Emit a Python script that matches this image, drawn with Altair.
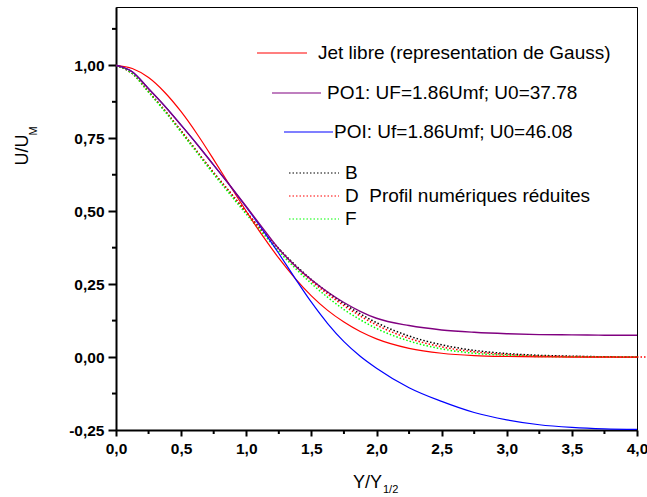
import altair as alt
import pandas as pd

# ---- data ----
xs = [0, 0.125, 0.25, 0.375, 0.5, 0.625, 0.75, 0.875, 1.0, 1.125, 1.25, 1.375, 1.5,
      1.625, 1.75, 1.875, 2.0, 2.25, 2.5, 2.75, 3.0, 3.25, 3.5, 3.75, 4.0]
gauss = [1.0, 0.989, 0.958, 0.907, 0.841, 0.763, 0.677, 0.588, 0.5, 0.416, 0.339, 0.270, 0.210,
         0.160, 0.120, 0.0875, 0.0625, 0.030, 0.013, 0.005, 0.002, 0.001, 0.0, 0.0, 0.0]
po1 = [1.0, 0.978, 0.92, 0.86, 0.795, 0.728, 0.658, 0.588, 0.516, 0.443, 0.371, 0.313, 0.265,
       0.223, 0.187, 0.157, 0.133, 0.108, 0.093, 0.085, 0.08, 0.077, 0.076, 0.075, 0.075]
poi = [1.0, 0.978, 0.92, 0.86, 0.795, 0.728, 0.658, 0.588, 0.514, 0.437, 0.355, 0.27, 0.188,
       0.115, 0.053, 0.003, -0.038, -0.105, -0.152, -0.19, -0.215, -0.232, -0.241, -0.246, -0.248]
prof_b = [1.0, 0.972, 0.91, 0.845, 0.775, 0.703, 0.632, 0.565, 0.497, 0.432, 0.372, 0.316, 0.266,
          0.222, 0.183, 0.148, 0.118, 0.072, 0.042, 0.023, 0.012, 0.006, 0.003, 0.001, 0.0]
prof_d = [1.0, 0.972, 0.91, 0.845, 0.775, 0.703, 0.632, 0.565, 0.497, 0.432, 0.37, 0.312, 0.261,
          0.216, 0.176, 0.141, 0.11, 0.064, 0.035, 0.018, 0.009, 0.004, 0.002, 0.001, 0.0]
prof_f = [1.0, 0.972, 0.908, 0.842, 0.771, 0.699, 0.627, 0.558, 0.49, 0.425, 0.362, 0.305, 0.252,
          0.205, 0.163, 0.128, 0.098, 0.055, 0.028, 0.013, 0.006, 0.002, 0.001, 0.0, 0.0]
d_ext_x = [4.0, 4.08]
d_ext_y = [0.0, 0.0]

y_major = [-0.25, 0.0, 0.25, 0.5, 0.75, 1.0]
y_minor = [-0.125, 0.125, 0.375, 0.625, 0.875, 1.125]
x_major = [0, 0.5, 1.0, 1.5, 2.0, 2.5, 3.0, 3.5, 4.0]
x_minor = [0.25, 0.75, 1.25, 1.75, 2.25, 2.75, 3.25, 3.75]

W, H = 521, 423
FONT = "Liberation Sans"

xscale = alt.Scale(domain=[0, 4], nice=False, zero=False)
yscale = alt.Scale(domain=[-0.25, 1.2], nice=False, zero=False)

y_label_expr = ("datum.value < 0 ? '-' + replace(format(abs(datum.value), '.2f'), '.', ',') "
                ": replace(format(datum.value, '.2f'), '.', ',')")
x_label_expr = "replace(format(datum.value, '.1f'), '.', ',')"

x_axis = alt.Axis(values=x_major, labelExpr=x_label_expr, title=None, grid=False,
                  tickSize=6, tickWidth=2, domainWidth=2, labelPadding=5,
                  labelFlush=False, labelOverlap=False)
y_axis = alt.Axis(values=y_major, labelExpr=y_label_expr, title=None, grid=False,
                  tickSize=8, tickWidth=2, domainWidth=2, labelPadding=4,
                  labelFlush=False, labelOverlap=False)


def curve(vals_x, vals_y, color, dash=None, width=1.0):
    df = pd.DataFrame({"x": vals_x, "y": vals_y})
    kw = dict(color=color, strokeWidth=width, interpolate="monotone", clip=False)
    if dash:
        kw["strokeDash"] = dash
    return alt.Chart(df).mark_line(**kw).encode(
        x=alt.X("x:Q", scale=xscale, axis=x_axis),
        y=alt.Y("y:Q", scale=yscale, axis=y_axis),
    )


DOT = [1.5, 2]

layers = [
    curve(xs, prof_b, "#000000", DOT, 1.5),
    curve(xs, prof_d, "#ff0000", DOT, 1.5),
    curve(d_ext_x, d_ext_y, "#ff0000", DOT, 1.5),
    curve(xs, prof_f, "#00ff00", DOT, 1.5),
    curve(xs, gauss, "#ff0000", None, 1.2),
    curve(xs, poi, "#0000ff", None, 1.2),
    curve(xs, po1, "#800080", None, 1.4),
]

# minor ticks via the scales
minor_y = alt.Chart(pd.DataFrame({"y": y_minor})).mark_rule(color="black", strokeWidth=2).encode(
    y=alt.Y("y:Q", scale=yscale, axis=y_axis), x=alt.value(-4), x2=alt.value(0))
minor_x = alt.Chart(pd.DataFrame({"x": x_minor})).mark_rule(color="black", strokeWidth=2).encode(
    x=alt.X("x:Q", scale=xscale, axis=x_axis), y=alt.value(H), y2=alt.value(H + 4))
layers += [minor_y, minor_x]

dummy = alt.Data(values=[{}])


def seg(x1, x2, y, color, dash=None):
    kw = dict(color=color, strokeWidth=1.2)
    if dash:
        kw["strokeDash"] = dash
    return alt.Chart(dummy).mark_rule(**kw).encode(
        x=alt.value(x1), x2=alt.value(x2), y=alt.value(y))


def txt(x, y, s, size=19, angle=0, align="left", baseline="middle", weight="normal"):
    kw = dict(font=FONT, fontSize=size, color="black", align=align, baseline=baseline,
              fontWeight=weight)
    if angle:
        kw["angle"] = angle
    return alt.Chart(dummy).mark_text(**kw).encode(
        x=alt.value(x), y=alt.value(y), text=alt.value(s))


legend = [
    seg(141, 191, 46, "#ff0000"),
    txt(202, 46, "Jet libre (representation de Gauss)"),
    seg(156, 205, 86, "#800080"),
    txt(211, 86, "PO1: UF=1.86Umf; U0=37.78"),
    seg(168, 217, 125, "#0000ff"),
    txt(218, 125, "POI: Uf=1.86Umf; U0=46.08"),
    seg(173, 223, 166, "#000000", DOT),
    txt(229, 166, "B"),
    seg(173, 223, 189, "#ff0000", DOT),
    txt(229, 189, "D\u00a0\u00a0Profil numériques réduites"),
    seg(173, 223, 212, "#00ff00", DOT),
    txt(229, 212, "F"),
]

titles = [
    txt(367.5 - 116, 488 - 7, "Y/Y", size=18, align="center", baseline="alphabetic"),
    txt(383 - 116, 493 - 7, "1/2", size=11, align="left", baseline="alphabetic"),
    txt(28 - 116, 150 - 7, "U/U", size=18, angle=270, align="center", baseline="alphabetic"),
    txt(37 - 116, 131 - 7, "M", size=11, angle=270, align="center", baseline="alphabetic"),
]

chart = alt.layer(*layers, *legend, *titles).properties(
    width=W, height=H,
    autosize=alt.AutoSizeParams(type="none"),
    padding={"left": 116, "top": 7, "right": 10, "bottom": 67},
    background="white",
).configure_view(
    stroke="black", strokeWidth=1
).configure_axis(
    labelFont=FONT, labelFontSize=15.5, labelFontWeight="bold", labelColor="black",
    domainColor="black", tickColor="black",
)

chart.save("out.html", embed_options={"renderer": "svg", "actions": False})
